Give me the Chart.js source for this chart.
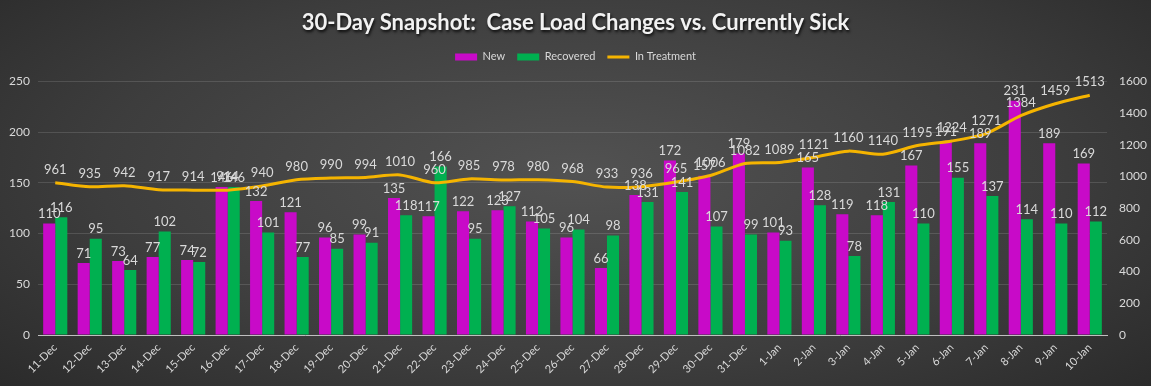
<!DOCTYPE html>
<html>
<head>
<meta charset="utf-8">
<script src="https://cdn.jsdelivr.net/npm/chart.js@4.4.1/dist/chart.umd.min.js"></script>
<style>
  html, body { margin: 0; padding: 0; }
  body {
    width: 1151px; height: 386px; overflow: hidden;
    background: radial-gradient(ellipse 75% 90% at 50% 45%, #525252 0%, #3d3d3d 55%, #262626 100%);
  }
  #wrap { position: relative; width: 1151px; height: 386px; }
</style>
</head>
<body>
<div id="wrap"><canvas id="c" width="1151" height="386"></canvas></div>
<script>
const categories = ["11-Dec","12-Dec","13-Dec","14-Dec","15-Dec","16-Dec","17-Dec","18-Dec","19-Dec","20-Dec",
  "21-Dec","22-Dec","23-Dec","24-Dec","25-Dec","26-Dec","27-Dec","28-Dec","29-Dec","30-Dec","31-Dec",
  "1-Jan","2-Jan","3-Jan","4-Jan","5-Jan","6-Jan","7-Jan","8-Jan","9-Jan","10-Jan"];
const newCases = [110,71,73,77,74,146,132,121,96,99,135,117,122,123,112,96,66,138,172,157,179,101,165,119,118,167,191,189,231,189,169];
const recovered = [116,95,64,102,72,146,101,77,85,91,118,166,95,127,105,104,98,131,141,107,99,93,128,78,131,110,155,137,114,110,112];
const inTreatment = [961,935,942,917,914,914,940,980,990,994,1010,960,985,978,980,968,933,936,965,1006,1082,1089,1121,1160,1140,1195,1224,1271,1384,1459,1513];
const leftTicks = [0,50,100,150,200,250];
const rightTicks = [0,200,400,600,800,1000,1200,1400,1600];

const FONT = "Lato, 'Open Sans', sans-serif";
const LABEL_COLOR = "#d9d9d9";

const valueLabels = {
  id: 'valueLabels',
  afterDatasetsDraw(chart) {
    const ctx = chart.ctx;
    ctx.save();
    ctx.font = "13px " + FONT;
    ctx.fillStyle = LABEL_COLOR;
    ctx.textAlign = 'center';
    chart.data.datasets.forEach((ds, i) => {
      const meta = chart.getDatasetMeta(i);
      meta.data.forEach((el, j) => {
        const v = ds.data[j];
        if (ds.type === 'line') {
          ctx.textBaseline = 'middle';
          ctx.fillText(String(v), el.x, el.y - 13);
        } else {
          ctx.textBaseline = 'bottom';
          ctx.fillText(String(v), el.x, el.y - 3);
        }
      });
    });
    ctx.restore();
  }
};

const layoutTweaks = {
  id: 'layoutTweaks',
  beforeLayout(chart) {
    const lg = chart.legend;
    if (lg && !lg._patched) {
      const f = lg.fit.bind(lg);
      lg.fit = function () { f(); this.height += 9; };
      lg._patched = true;
    }
    const tb = chart.titleBlock;
    if (tb && !tb._patched) {
      const d = tb.draw.bind(tb);
      tb.draw = function () {
        const ctx = chart.ctx;
        ctx.save();
        ctx.shadowColor = 'rgba(0,0,0,0.85)';
        ctx.shadowOffsetX = 1; ctx.shadowOffsetY = 2; ctx.shadowBlur = 3;
        d();
        ctx.restore();
      };
      tb._patched = true;
    }
  }
};

new Chart(document.getElementById('c'), {
  data: {
    labels: categories,
    datasets: [
      { type: 'bar', label: 'New', data: newCases, backgroundColor: '#c80ac8', yAxisID: 'y', order: 2 },
      { type: 'bar', label: 'Recovered', data: recovered, backgroundColor: '#00b050', yAxisID: 'y', order: 2 },
      { type: 'line', label: 'In Treatment', data: inTreatment, borderColor: '#f5b400', backgroundColor: '#f5b400',
        borderWidth: 3, pointRadius: 0, tension: 0.25, yAxisID: 'y1', order: 0 }
    ]
  },
  options: {
    responsive: false,
    animation: false,
    layout: { padding: { top: 0, left: 0, right: 0, bottom: 0 } },
    datasets: { bar: { categoryPercentage: 0.7, barPercentage: 1.0 } },
    plugins: {
      title: {
        display: true,
        text: '30-Day Snapshot:  Case Load Changes vs. Currently Sick',
        color: '#f2f2f2',
        font: { family: FONT, size: 22, weight: 'bold' },
        padding: { top: 10, bottom: 3 }
      },
      legend: {
        display: true,
        labels: {
          color: LABEL_COLOR,
          font: { family: FONT, size: 11 },
          usePointStyle: true,
          pointStyleWidth: 22,
          boxHeight: 7,
          padding: 12,
          generateLabels(chart) {
            return chart.data.datasets.map((ds, i) => ({
              text: ds.label,
              fillStyle: ds.type === 'line' ? ds.borderColor : ds.backgroundColor,
              strokeStyle: ds.type === 'line' ? ds.borderColor : ds.backgroundColor,
              lineWidth: ds.type === 'line' ? 3 : 0,
              pointStyle: ds.type === 'line' ? 'line' : 'rect',
              fontColor: LABEL_COLOR,
              datasetIndex: i,
              hidden: false
            }));
          }
        }
      },
      tooltip: { enabled: false }
    },
    scales: {
      x: {
        grid: { display: false, drawTicks: false },
        border: { display: true, color: '#bfbfbf', width: 1 },
        ticks: { color: LABEL_COLOR, font: { family: FONT, size: 11 }, minRotation: 45, maxRotation: 45, padding: 6 },
        afterFit(s) { s.height = 51; }
      },
      y: {
        position: 'left',
        min: 0, max: 250,
        afterBuildTicks(s) { s.ticks = leftTicks.map(v => ({ value: v })); },
        grid: { color: 'rgba(255,255,255,0.13)', drawTicks: false },
        border: { display: false },
        ticks: { color: LABEL_COLOR, font: { family: FONT, size: 12 }, padding: 8, callback: v => String(v) },
        afterFit(s) { s.width = 38; }
      },
      y1: {
        position: 'right',
        min: 0, max: 1600,
        afterBuildTicks(s) { s.ticks = rightTicks.map(v => ({ value: v })); },
        grid: { display: false, drawTicks: false },
        border: { display: false },
        ticks: { color: LABEL_COLOR, font: { family: FONT, size: 12 }, padding: 12, callback: v => String(v) },
        afterFit(s) { s.width = 44; }
      }
    }
  },
  plugins: [valueLabels, layoutTweaks]
});
</script>
</body>
</html>
